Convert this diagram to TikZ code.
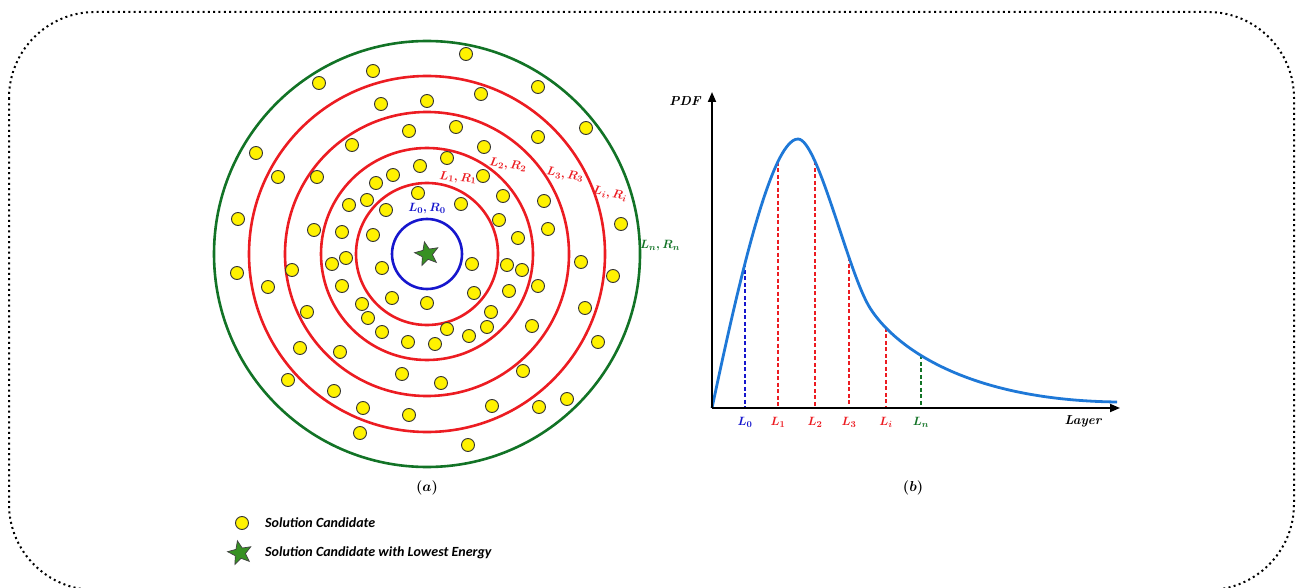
\documentclass[tikz,border=0pt]{standalone}
\usepackage{amsmath,amssymb,bm}
\usepackage{fontspec}
\newfontfamily\legendfont{Carlito}
\usetikzlibrary{shapes.geometric,arrows.meta,positioning,intersections}

\definecolor{ringred}{RGB}{236,28,34}
\definecolor{ringgreen}{RGB}{18,115,38}
\definecolor{ringblue}{RGB}{22,22,205}
\definecolor{dotyellow}{RGB}{255,242,0}
\definecolor{curveblue}{RGB}{30,120,215}
\definecolor{stargreen}{RGB}{55,145,35}

\tikzset{
  cand/.style={fill=dotyellow, draw=black!80, line width=0.9pt},
  ring/.style={line width=2.6pt},
  best/.style={star, star points=5, star point ratio=2.3, minimum size=25pt,
    inner sep=0pt, fill=stargreen, draw=black!75, line width=0.7pt},
  lbl/.style={font=\boldmath\fontsize{13}{15}\selectfont, inner sep=0pt},
  caplbl/.style={font=\boldmath\fontsize{15.5}{17}\selectfont, inner sep=0pt},
  axlbl/.style={font=\bfseries\itshape\fontsize{13}{15}\selectfont, inner sep=0pt},
  legtext/.style={font=\legendfont\bfseries\itshape\fontsize{14}{16}\selectfont,
    anchor=west, inner sep=0pt},
  axis/.style={line width=1.8pt, -{Triangle[length=10pt,width=8pt]}},
  drop/.style={line width=1.1pt, dash pattern=on 4pt off 2.5pt},
  pdfpath/.style={insert path={(O) .. controls (735,300) and (770,139) .. (798,139)
        .. controls (818,139) and (848,273) .. (870,308)
        .. controls (892,343) and (960,400) .. (1117,402)}},
}

\begin{document}
\begin{tikzpicture}[x=1pt,y=-1pt]
    \useasboundingbox (0,0) rectangle (1298,588);
    \draw[line width=2pt, dash pattern=on 2pt off 3.3pt, rounded corners=86pt] (9,12) rectangle (1294,590);
    %% (a) layers
    \coordinate (ctr) at (427,254);
    \draw[ring, ringblue] (ctr) circle (35);
    \foreach \r in {71,106,142,178}
        \draw[ring, ringred] (ctr) circle (\r);
    \draw[ring, ringgreen] (ctr) circle (213);
    \foreach \x/\y in {466/54,373/71,319/83,538/87,481/94,381/104,427/101,586/128,409/131,456/127,
        538/137,256/153,352/145,484/147,447/158,420/166,278/177,317/177,393/175,376/183,
        483/176,418/193,503/196,367/200,349/205,461/204,544/201,386/210,238/219,621/224,
        499/220,314/230,342/232,373/235,548/229,518/238,346/258,332/264,382/268,472/264,
        507/265,522/270,581/262,237/273,292/270,613/276,268/287,342/286,538/286,509/291,
        474/293,392/298,427/303,362/304,585/308,307/312,491/312,368/318,447/329,487/327,
        382/332,532/326,469/336,408/342,435/344,598/342,300/348,340/352,402/374,523/371,
        441/383,288/380,334/391,567/399,363/408,492/406,539/407,409/415,360/433,468/445}
        \draw[cand] (\x,\y) circle (6.5);
    \node[best, rotate=12] (star) at (ctr) {};
    %%
    \node[lbl, ringblue] (r0) at (427,209) {$\bm{L_0, R_0}$};
    \node[lbl, ringred, rotate=-5] (r1) at (458,178) {$\bm{L_1, R_1}$};
    \node[lbl, ringred, rotate=-7] (r2) at (508,165) {$\bm{L_2, R_2}$};
    \node[lbl, ringred, rotate=-9] (r3) at (565,175) {$\bm{L_3, R_3}$};
    \node[lbl, ringred, rotate=-10] (ri) at (610,194) {$\bm{L_i, R_i}$};
    \node[lbl, ringgreen] (rn) at (660,246) {$\bm{L_n, R_n}$};
    \node[caplbl] (capa) at (427,488) {$\bm{(a)}$};
    %% (b) distribution
    \coordinate (O) at (712,408);
    \coordinate (ytop) at (712,92);
    \coordinate (xend) at (1120,408);
    \path[name path=pdfline, pdfpath];
    \foreach \c/\xx in {c0/745,c1/778,c2/815,c3/849,ci/886,cn/921} {
        \path[name path=cut] (\xx,100) -- (\xx,410);
        \path[name intersections={of=pdfline and cut, by=\c}];
    }
    \draw[drop, ringblue] (c0) -- (c0 |- O);
    \foreach \c in {c1,c2,c3,ci}
        \draw[drop, ringred] (\c) -- (\c |- O);
    \draw[drop, ringgreen] (cn) -- (cn |- O);
    \draw[line width=2.8pt, curveblue, pdfpath];
    \draw[axis] (O) -- (xend);
    \draw[axis] (O) -- (ytop);
    \node[axlbl] (pdf) at (685,101) {PDF};
    \node[axlbl] (layer) at (1083,421) {Layer};
    \node[lbl, ringblue] (t0) at (745,422) {$\bm{L_0}$};
    \node[lbl, ringred] (t1) at (778,422) {$\bm{L_1}$};
    \node[lbl, ringred] (t2) at (815,422) {$\bm{L_2}$};
    \node[lbl, ringred] (t3) at (849,422) {$\bm{L_3}$};
    \node[lbl, ringred] (ti) at (886,422) {$\bm{L_i}$};
    \node[lbl, ringgreen] (tn) at (921,422) {$\bm{L_n}$};
    \node[caplbl] (capb) at (913,488) {$\bm{(b)}$};
    %% legend
    \draw[cand] (242,523) circle (6.5);
    \node[legtext] (leg1) at (265,523) {Solution Candidate};
    \node[best, rotate=12] (legstar) at (240,553) {};
    \node[legtext] (leg2) at (265,553) {Solution Candidate with Lowest Energy};
\end{tikzpicture}
\end{document}
